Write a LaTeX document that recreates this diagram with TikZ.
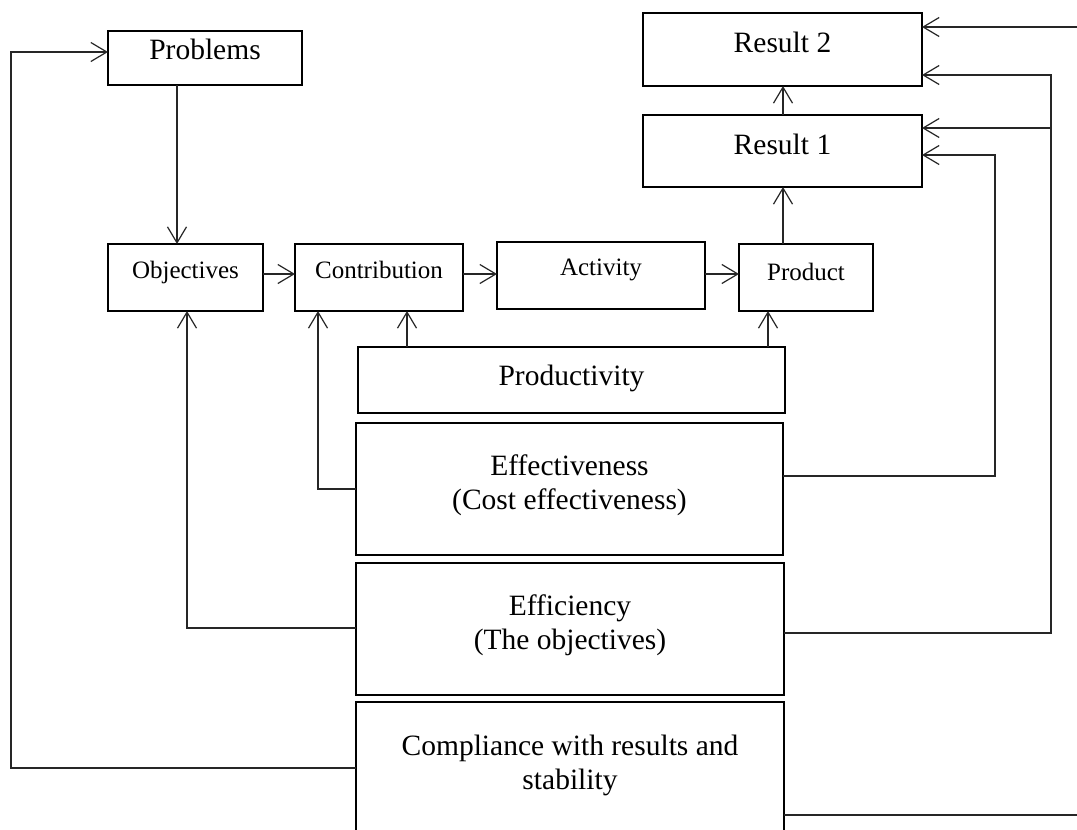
\documentclass[tikz,border=0pt]{standalone}
\usepackage{fontspec}
\setmainfont{Liberation Serif}
\usetikzlibrary{arrows.meta}
\begin{document}
\begin{tikzpicture}[x=1pt,y=-1pt,
  box/.style={draw=black,line width=2.2pt,inner sep=0pt,outer sep=0pt,fill=none},
  big/.style={font=\fontsize{29.5}{34}\selectfont,anchor=base,inner sep=0pt,align=center},
  small/.style={font=\fontsize{25}{30}\selectfont,anchor=base,inner sep=0pt},
  conn/.style={draw=black!85,line width=1.2pt},
  arr/.style={conn,-{Straight Barb[length=16pt,width=19pt,line width=1.2pt]}}]
\useasboundingbox (0,0) rectangle (1077,830);
\fill[white] (0,0) rectangle (1077,830);
\clip (0,0) rectangle (1077,830);
% boxes
\node[box,minimum width=194,minimum height=54] (prob) at (205,58) {};
\node[box,minimum width=279,minimum height=73] (r2) at (782.5,49.5) {};
\node[box,minimum width=279,minimum height=72] (r1) at (782.5,151) {};
\node[box,minimum width=155,minimum height=67] (obj) at (185.5,277.5) {};
\node[box,minimum width=168,minimum height=67] (con) at (379,277.5) {};
\node[box,minimum width=208,minimum height=67] (act) at (601,275.5) {};
\node[box,minimum width=134,minimum height=67] (prod) at (806,277.5) {};
\node[box,minimum width=427,minimum height=66] (pty) at (571.5,380) {};
\node[box,minimum width=427,minimum height=132] (eff) at (569.5,489) {};
\node[box,minimum width=428,minimum height=132] (effi) at (570,629) {};
\node[box,minimum width=428,minimum height=140] (comp) at (570,772) {};
% texts
\node[big] (tprob) at (205,59) {Problems};
\node[big] (tr2) at (782.5,52) {Result 2};
\node[big] (tr1) at (782.5,154) {Result 1};
\node[small] (tobj) at (185.5,278) {Objectives};
\node[small] (tcon) at (379,278) {Contribution};
\node[small] (tact) at (601,275) {Activity};
\node[small] (tprod) at (806,280) {Product};
\node[big] (tpty) at (571.5,385) {Productivity};
\node[big] (teff1) at (569.5,475) {Effectiveness};
\node[big] (teff2) at (569.5,509) {(Cost effectiveness)};
\node[big] (teffi1) at (570,615) {Efficiency};
\node[big] (teffi2) at (570,649) {(The objectives)};
\node[big] (tcomp1) at (570,755) {Compliance with results and};
\node[big] (tcomp2) at (570,789) {stability};
% helper coordinates
\coordinate (xa) at (177,0);
\coordinate (ya) at (0,274);
\coordinate (xr) at (783,0);
\coordinate (xc) at (407,0);
\coordinate (xp) at (768,0);
\coordinate (l1) at (318,489);
\coordinate (l2) at (187,628);
\coordinate (l3) at (11,768);
\coordinate (l3t) at (11,52);
\coordinate (r1a) at (995,476);
\coordinate (r1b) at (995,155);
\coordinate (r2a) at (1051,633);
\coordinate (r2b) at (1051,75);
\coordinate (r2c) at (1051,128);
\coordinate (ea) at (1077,815);
\coordinate (eb) at (1077,27);
% connectors
\draw[arr] (prob.south -| xa) -- (obj.north -| xa);
\draw[arr] (obj.east |- ya) -- (con.west |- ya);
\draw[arr] (con.east |- ya) -- (act.west |- ya);
\draw[arr] (act.east |- ya) -- (prod.west |- ya);
\draw[arr] (prod.north -| xr) -- (r1.south -| xr);
\draw[arr] (r1.north -| xr) -- (r2.south -| xr);
\draw[arr] (pty.north -| xc) -- (con.south -| xc);
\draw[arr] (pty.north -| xp) -- (prod.south -| xp);
\draw[arr] (eff.west |- l1) -- (l1) -- (con.south -| l1);
\draw[arr] (effi.west |- l2) -- (l2) -- (obj.south -| l2);
\draw[arr] (comp.west |- l3) -- (l3) -- (l3t) -- (prob.west |- l3t);
\draw[arr] (eff.east |- r1a) -- (r1a) -- (r1b) -- (r1.east |- r1b);
\draw[arr] (effi.east |- r2a) -- (r2a) -- (r2b) -- (r2.east |- r2b);
\draw[arr] (r2c) -- (r1.east |- r2c);
\draw[conn] (comp.east |- ea) -- (ea);
\draw[arr] (eb) -- (r2.east |- eb);
\end{tikzpicture}
\end{document}
